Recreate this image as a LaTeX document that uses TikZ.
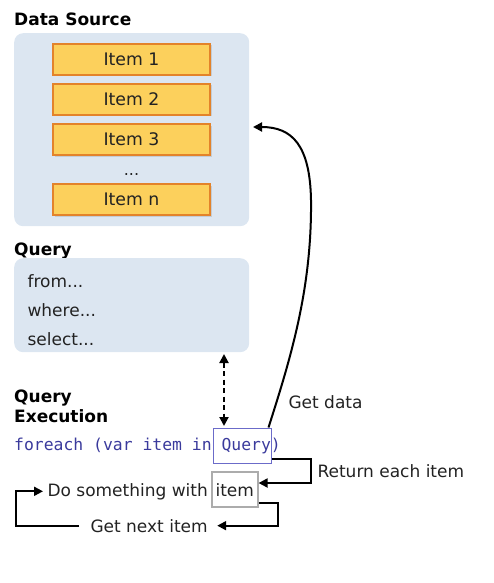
\documentclass[tikz,border=0pt]{standalone}
\usepackage{fontspec}
\setmainfont{DejaVu Sans}
\setmonofont{DejaVu Sans Mono}
\usetikzlibrary{arrows.meta,shadows}
\definecolor{boxblue}{HTML}{DCE6F1}
\definecolor{itemfill}{HTML}{FCD05C}
\definecolor{itemdraw}{HTML}{E3832A}
\definecolor{codeblue}{HTML}{3A3A9C}
\definecolor{qboxdraw}{HTML}{6B6BC9}
\definecolor{txt}{HTML}{222222}
\tikzset{
  panel/.style={fill=boxblue, rounded corners=9pt, draw=none},
  itembox/.style={draw=itemdraw, line width=1.3pt, fill=itemfill, minimum width=157pt, minimum height=31pt, inner sep=0pt,
    font=\fontsize{17.3}{18}\selectfont, text=txt, drop shadow={opacity=0.25, shadow xshift=1.5pt, shadow yshift=-1.5pt}},
  heading/.style={font=\fontsize{17}{18}\selectfont\bfseries, text=black, anchor=base west, inner sep=0pt},
  lbl/.style={font=\fontsize{17}{18}\selectfont, text=txt, anchor=base west},
  flow/.style={line width=2pt, -{Triangle[length=9pt,width=9pt]}},
}
\begin{document}
\begin{tikzpicture}[x=1pt,y=-1pt]
\useasboundingbox (0,0) rectangle (494,583);
% Data source
\node[heading] (dshead) at (14,26) {Data Source};
\node[panel, minimum width=235pt, minimum height=193pt, anchor=north west] (ds) at (14,33) {};
\node[itembox] (i1) at (131.5,59.5) {Item 1};
\node[itembox] (i2) at (131.5,99.5) {Item 2};
\node[itembox] (i3) at (131.5,139.5) {Item 3};
\node[font=\fontsize{16}{18}\selectfont, text=txt, anchor=base] (dots) at (131.5,175) {...};
\node[itembox] (in) at (131.5,199.5) {Item n};
% Query
\node[heading] (qhead) at (14,255) {Query};
\node[panel, minimum width=235pt, minimum height=94pt, anchor=north west] (q) at (14,258) {};
\node[lbl] (from) at (24,287) {from...};
\node[lbl] (where) at (24,316) {where...};
\node[lbl] (select) at (24,345) {select...};
% Query execution
\node[heading] (qe1) at (14,402) {Query};
\node[heading] (qe2) at (14,422) {Execution};
\node[font=\fontsize{16.4}{18}\selectfont\ttfamily, text=codeblue, anchor=base west, inner sep=0pt] (fe) at (14,450) {foreach (var item in Query)};
\node[draw=qboxdraw, line width=1pt, minimum width=58pt, minimum height=35pt, inner sep=0pt] (qbox) at (242,445.5) {};
\node[draw=gray!65, line width=1.2pt, minimum width=46pt, minimum height=35pt, inner sep=0pt] (itembox) at (235,489.5) {};
\node[lbl] (itemtxt) at (212,496) {item};
\node[lbl] (dosth) at (44,496) {Do something with};
\node[lbl] (getnext) at (87,532) {Get next item};
\node[lbl] (ret) at (314,477) {Return each item};
\node[lbl] (getdata) at (285,408) {Get data};
% dashed link query <-> execution
\coordinate (dtop) at (224,354);
\coordinate (dbot) at (224,426);
\draw[line width=2pt, dash pattern=on 5pt off 3.5pt, {Triangle[length=9pt,width=9pt]}-{Triangle[length=9pt,width=9pt]}] (dtop) -- (dbot);
% get data curve
\coordinate (dsin) at (253,127);
\draw[flow] ([xshift=-3pt]qbox.north east) .. controls (290,360) and (312,290) .. (311,200)
   .. controls (310,145) and (292,127) .. (dsin);
% return each item
\draw[flow] ([yshift=5pt]qbox.south east) -- ++(39,0) |- ([yshift=6.5pt]itembox.east);
% get next item
\draw[flow] ([yshift=-13.5pt]itembox.east) -- ++(19,0) |- ([xshift=6pt]getnext.east);
% loop back
\draw[flow] ([xshift=-8pt]getnext.west) -- ++(-63,0) |- ([xshift=-1pt]dosth.west);
\end{tikzpicture}
\end{document}
